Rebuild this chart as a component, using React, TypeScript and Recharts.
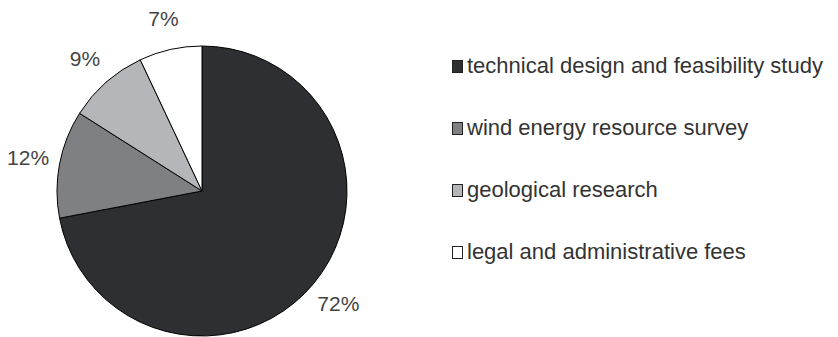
import { PieChart, Pie, Cell, Legend } from 'recharts';

// Cost breakdown categories and their shares (%)
const categories = [
  'technical design and feasibility study',
  'wind energy resource survey',
  'geological research',
  'legal and administrative fees',
];
const shares = [72, 12, 9, 7];
const colors = ['#2d2f32', '#7f8083', '#b5b6b9', '#ffffff'];

const data = categories.map((name, i) => ({ name, value: shares[i] }));

const RADIAN = Math.PI / 180;

// Percentage label just outside each slice
const renderLabel = (props: any) => {
  const { cx, cy, midAngle, outerRadius, value } = props;
  const r = outerRadius + 32;
  const x = cx + r * Math.cos(-midAngle * RADIAN);
  const y = cy + r * Math.sin(-midAngle * RADIAN);
  return (
    <text
      x={x}
      y={y}
      fill="#444"
      fontSize={21}
      fontFamily="'Liberation Sans', Arial, sans-serif"
      textAnchor="middle"
      dominantBaseline="central"
    >
      {`${value}%`}
    </text>
  );
};

// Legend: small square swatch + text, widely spaced rows
const renderLegend = () => (
  <div style={{ fontFamily: "'Liberation Sans', Arial, sans-serif" }}>
    {data.map((d, i) => (
      <div
        key={d.name}
        style={{ display: 'flex', alignItems: 'center', height: 62, color: '#333', fontSize: 22 }}
      >
        <span
          style={{
            display: 'inline-block',
            width: 9,
            height: 11,
            background: colors[i],
            border: '1px solid #222',
            marginRight: 4,
          }}
        />
        <span>{d.name}</span>
      </div>
    ))}
  </div>
);

const App = () => (
  <div style={{ position: 'absolute', left: 0, top: 0 }}>
    <PieChart width={838} height={337}>
      <Pie
        data={data}
        dataKey="value"
        cx={197}
        cy={186}
        outerRadius={145}
        startAngle={90}
        endAngle={-270}
        stroke="#000"
        strokeWidth={1}
        label={renderLabel}
        labelLine={false}
        isAnimationActive={false}
      >
        {data.map((d, i) => (
          <Cell key={d.name} fill={colors[i]} />
        ))}
      </Pie>
      <Legend
        content={renderLegend}
        layout="vertical"
        wrapperStyle={{ position: 'absolute', left: 452, top: 35, width: 386 }}
      />
    </PieChart>
  </div>
);

export default App;
